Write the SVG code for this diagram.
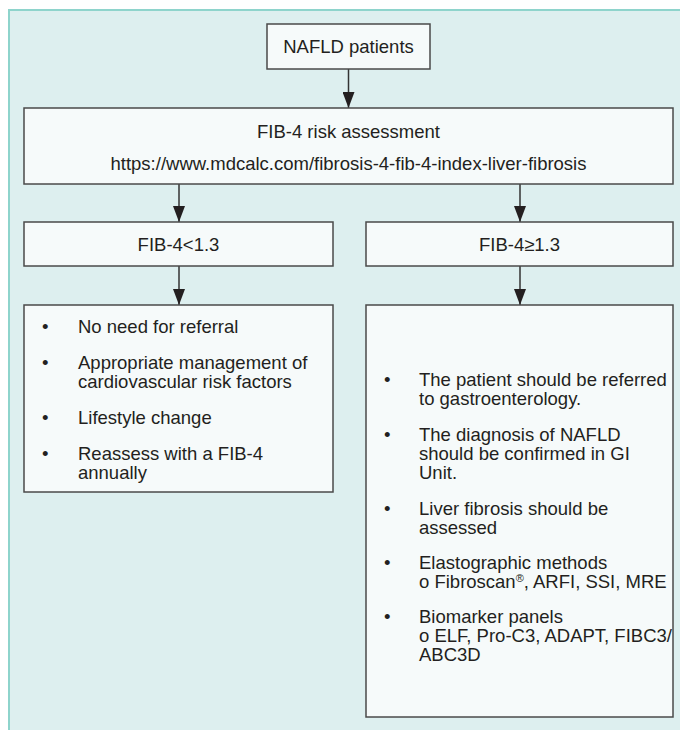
<svg xmlns="http://www.w3.org/2000/svg" width="680" height="730" viewBox="0 0 680 730">
<defs>
<marker id="ah" viewBox="0 0 16 12" refX="16" refY="6" markerWidth="16" markerHeight="12" markerUnits="userSpaceOnUse" orient="auto">
<path d="M0,0 L16,6 L0,12 Z" fill="#231f20"/>
</marker>
<style>
.box{fill:#f6fafa;stroke:#4a4a4a;stroke-width:1.5}
.t{font-family:"Liberation Sans",Arial,sans-serif;font-size:18.5px;fill:#231f20}
.c{text-anchor:middle}
.con{stroke:#333;stroke-width:1.5;fill:none}
</style>
</defs>
<rect x="0" y="0" width="680" height="730" fill="#ffffff"/>
<rect x="9" y="10" width="671" height="720" fill="#ddefef"/>
<path d="M9,730 L9,10 L680,10" fill="none" stroke="#8ed4cc" stroke-width="2"/>

<g id="connectors">
<line class="con" x1="348.5" y1="69" x2="348.5" y2="108" marker-end="url(#ah)"/>
<line class="con" x1="179" y1="184" x2="179" y2="222" marker-end="url(#ah)"/>
<line class="con" x1="520" y1="184" x2="520" y2="222" marker-end="url(#ah)"/>
<line class="con" x1="179" y1="266" x2="179" y2="305" marker-end="url(#ah)"/>
<line class="con" x1="520" y1="266" x2="520" y2="305" marker-end="url(#ah)"/>
</g>

<g id="nafld">
<rect class="box" x="267" y="24" width="163" height="45"/>
<text class="t c" x="348.5" y="53">NAFLD patients</text>
</g>

<g id="fib4">
<rect class="box" x="24" y="108" width="649" height="76"/>
<text class="t c" x="348.5" y="138">FIB-4 risk assessment</text>
<text class="t c" x="348.5" y="170">https://www.mdcalc.com/fibrosis-4-fib-4-index-liver-fibrosis</text>
</g>

<g id="low">
<rect class="box" x="24" y="222" width="309" height="44"/>
<text class="t c" x="178.5" y="251">FIB-4&lt;1.3</text>
</g>

<g id="high">
<rect class="box" x="366" y="222" width="307" height="44"/>
<text class="t c" x="519.5" y="251">FIB-4≥1.3</text>
</g>

<g id="low-actions">
<rect class="box" x="24" y="305" width="309" height="187"/>
<text class="t" x="42" y="333">•</text>
<text class="t" x="78" y="333">No need for referral</text>
<text class="t" x="42" y="369">•</text>
<text class="t" x="78" y="369">Appropriate management of</text>
<text class="t" x="78" y="388">cardiovascular risk factors</text>
<text class="t" x="42" y="424">•</text>
<text class="t" x="78" y="424">Lifestyle change</text>
<text class="t" x="42" y="460">•</text>
<text class="t" x="78" y="460">Reassess with a FIB-4</text>
<text class="t" x="78" y="479">annually</text>
</g>

<g id="high-actions">
<rect class="box" x="366" y="305" width="307" height="412"/>
<text class="t" x="384" y="386">•</text>
<text class="t" x="419" y="386">The patient should be referred</text>
<text class="t" x="419" y="405">to gastroenterology.</text>
<text class="t" x="384" y="441">•</text>
<text class="t" x="419" y="441">The diagnosis of NAFLD</text>
<text class="t" x="419" y="460">should be confirmed in GI</text>
<text class="t" x="419" y="479">Unit.</text>
<text class="t" x="384" y="515">•</text>
<text class="t" x="419" y="515">Liver fibrosis should be</text>
<text class="t" x="419" y="534">assessed</text>
<text class="t" x="384" y="569">•</text>
<text class="t" x="419" y="569">Elastographic methods</text>
<text class="t" x="419" y="588">o Fibroscan<tspan font-size="11" baseline-shift="super">®</tspan>, ARFI, SSI, MRE</text>
<text class="t" x="384" y="623">•</text>
<text class="t" x="419" y="623">Biomarker panels</text>
<text class="t" x="419" y="642">o ELF, Pro-C3, ADAPT, FIBC3/</text>
<text class="t" x="419" y="661">ABC3D</text>
</g>
</svg>
